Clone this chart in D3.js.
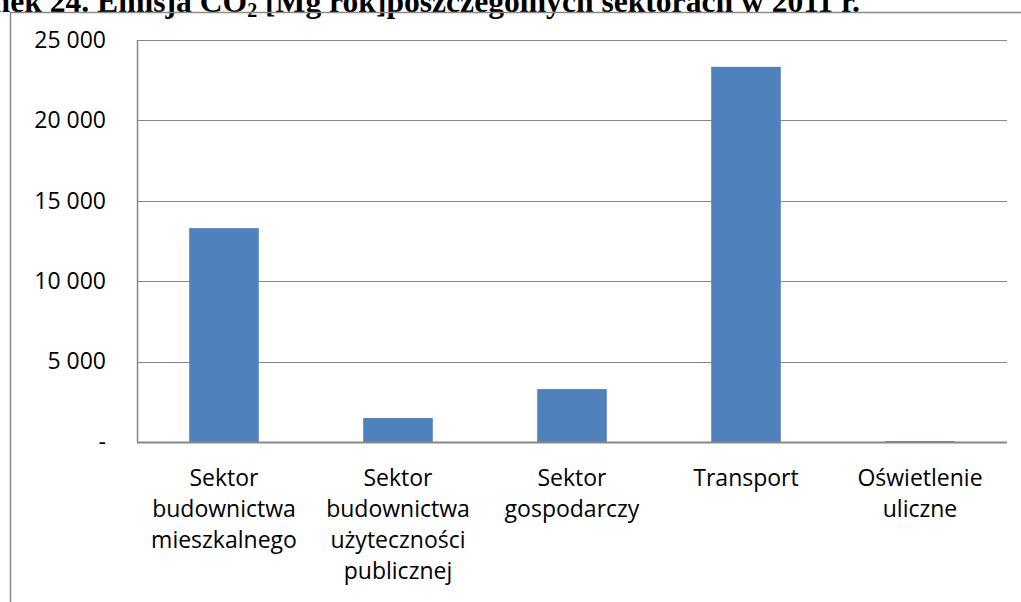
<!DOCTYPE html>
<html>
<head>
<meta charset="utf-8">
<script src="https://cdn.jsdelivr.net/npm/d3@7"></script>
<style>
  body { margin: 0; background: #fff; }
  svg { display: block; }
</style>
</head>
<body>
<div id="chart"></div>
<script>
// Data
const categories = [
    ['Sektor', 'budownictwa', 'mieszkalnego'],
    ['Sektor', 'budownictwa', 'użyteczności', 'publicznej'],
    ['Sektor', 'gospodarczy'],
    ['Transport'],
    ['Oświetlenie', 'uliczne']
];
const emissions = [13300, 1490, 3290, 23330, 60];
const yTicks = [0, 5000, 10000, 15000, 20000, 25000];

const width = 1021, height = 602;
const margin = {top: 40, right: 14, bottom: 160, left: 137};
const innerW = width - margin.left - margin.right;
const innerH = height - margin.top - margin.bottom;

const svg = d3.select('#chart')
    .append('svg')
    .attr('width', width)
    .attr('height', height);

// Title (cut off at the top, as in the source)
svg.append('text')
    .attr('x', 860)
    .attr('y', 12)
    .attr('text-anchor', 'end')
    .attr('font-family', '"Liberation Serif", "Times New Roman", serif')
    .attr('font-weight', 'bold')
    .attr('font-size', 31.6)
    .html('Rysunek 24. Emisja CO<tspan font-size="20" dy="5">2</tspan><tspan dy="-5"> [Mg rok]poszczególnych sektorach w 2011 r.</tspan>');

// Outer chart border
svg.append('path')
    .attr('d', `M10.5,${height}V12.5H${width}`)
    .attr('fill', 'none')
    .attr('stroke', '#8a8a8a')
    .attr('stroke-width', 1.5);

const g = svg.append('g')
    .attr('transform', `translate(${margin.left},${margin.top})`);

const x = d3.scaleBand()
    .domain(d3.range(categories.length))
    .range([0, innerW])
    .paddingInner(0.6)
    .paddingOuter(0.3);

const y = d3.scaleLinear()
    .domain([0, 25000])
    .range([innerH, 0]);

// Gridlines
g.selectAll('.grid')
    .data(yTicks.filter(d => d > 0))
    .join('line')
    .attr('class', 'grid')
    .attr('x1', 0)
    .attr('x2', innerW)
    .attr('y1', d => Math.round(y(d)) + 0.5)
    .attr('y2', d => Math.round(y(d)) + 0.5)
    .attr('stroke', '#878787')
    .attr('stroke-width', 1);

// Left edge of plot area
g.append('line')
    .attr('x1', 0.5).attr('x2', 0.5)
    .attr('y1', 0).attr('y2', innerH)
    .attr('stroke', '#878787')
    .attr('stroke-width', 1.5);

// Bars
g.selectAll('.bar')
    .data(emissions)
    .join('rect')
    .attr('class', 'bar')
    .attr('x', (d, i) => x(i))
    .attr('y', d => y(d))
    .attr('width', x.bandwidth())
    .attr('height', d => innerH - y(d))
    .attr('fill', '#4f81bd');

// Baseline
g.append('line')
    .attr('x1', 0).attr('x2', innerW)
    .attr('y1', innerH + 0.5).attr('y2', innerH + 0.5)
    .attr('stroke', '#878787')
    .attr('stroke-width', 2);

// Y axis labels
const yAxis = d3.axisLeft(y)
    .tickValues(yTicks)
    .tickSize(0)
    .tickPadding(31)
    .tickFormat(d => d === 0 ? '-' : d3.format(',')(d).replace(/,/g, ' '));

g.append('g')
    .attr('class', 'y-axis')
    .call(yAxis)
    .call(a => a.select('.domain').remove())
    .selectAll('text')
    .attr('font-family', '"Open Sans", sans-serif')
    .attr('font-size', 23)
    .attr('fill', '#000');

// X axis category labels
const xLabels = g.selectAll('.x-label')
    .data(categories)
    .join('text')
    .attr('class', 'x-label')
    .attr('x', (d, i) => x(i) + x.bandwidth() / 2)
    .attr('y', innerH + 44)
    .attr('text-anchor', 'middle')
    .attr('font-family', '"Open Sans", sans-serif')
    .attr('font-size', 23)
    .attr('fill', '#000');

xLabels.selectAll('tspan')
    .data(d => d)
    .join('tspan')
    .attr('x', function () { return d3.select(this.parentNode).attr('x'); })
    .attr('dy', (d, i) => i === 0 ? 0 : 31)
    .text(d => d);
</script>
</body>
</html>
